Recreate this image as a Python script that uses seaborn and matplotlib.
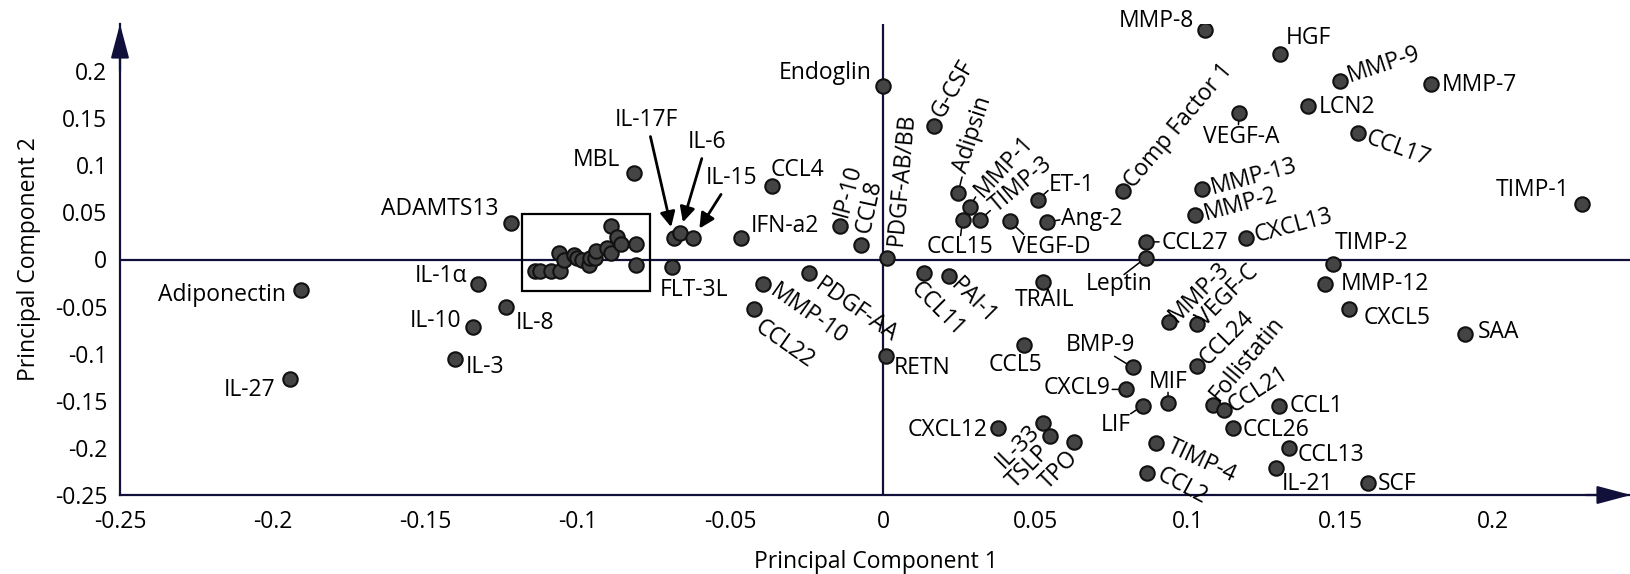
import matplotlib
matplotlib.use("Agg")
import matplotlib.pyplot as plt
import seaborn as sns
import pandas as pd
from matplotlib.patches import Rectangle

# ---------------- data ----------------
names = ["Adiponectin", "IL-27", "ADAMTS13", "MBL", "IL-1α", "IL-10", "IL-8", "IL-3",
         "IL-17F", "IL-6", "IL-15", "FLT-3L", "CCL4", "IFN-a2", "IP-10", "CCL8",
         "PDGF-AB/BB", "Endoglin", "G-CSF", "Adipsin", "MMP-1", "CCL15", "TIMP-3",
         "VEGF-D", "ET-1", "Ang-2", "Comp Factor 1", "MMP-8", "CCL27", "Leptin",
         "TRAIL", "RETN", "CCL11", "PAI-1", "PDGF-AA", "MMP-10", "CCL22", "CXCL12",
         "IL-33", "TSLP", "TPO", "CCL5", "BMP-9", "CXCL9", "LIF", "MIF", "MMP-3",
         "VEGF-C", "CCL24", "Follistatin", "CCL21", "CCL1", "CCL26", "CCL13", "IL-21",
         "SCF", "SAA", "CXCL5", "MMP-12", "TIMP-2", "TIMP-1", "CXCL13", "MMP-2",
         "MMP-13", "MMP-9", "HGF", "MMP-7", "LCN2", "VEGF-A", "CCL17", "TIMP-4", "CCL2"]
pc1 = [-0.1906, -0.1942, -0.1218, -0.0817, -0.1327, -0.1343, -0.1234, -0.1401,
       -0.0686, -0.0666, -0.0621, -0.0691, -0.0362, -0.0465, -0.0142, -0.0071,
       0.0013, 0.0000, 0.0166, 0.0246, 0.0284, 0.0261, 0.0319,
       0.0415, 0.0508, 0.0537, 0.0786, 0.1054, 0.0862, 0.0862,
       0.0524, 0.0011, 0.0135, 0.0217, -0.0244, -0.0393, -0.0422, 0.0377,
       0.0524, 0.0548, 0.0627, 0.0461, 0.0818, 0.0797, 0.0851, 0.0934, 0.0936,
       0.1029, 0.1029, 0.1083, 0.1116, 0.1299, 0.1147, 0.1329, 0.1288,
       0.1588, 0.1908, 0.1528, 0.1447, 0.1476, 0.2290, 0.1189, 0.1023,
       0.1045, 0.1498, 0.1300, 0.1797, 0.1394, 0.1168, 0.1555, 0.0895, 0.0865]
pc2 = [-0.0326, -0.1269, 0.0392, 0.0918, -0.0265, -0.0721, -0.0509, -0.1057,
       0.0229, 0.0282, 0.0229, -0.0078, 0.0781, 0.0233, 0.0353, 0.0159,
       0.0014, 0.1838, 0.1419, 0.0706, 0.0558, 0.0424, 0.0424,
       0.0406, 0.0636, 0.0399, 0.0727, 0.2432, 0.0187, 0.0021,
       -0.0238, -0.1025, -0.0148, -0.0174, -0.0142, -0.0265, -0.0530, -0.1792,
       -0.1739, -0.1874, -0.1934, -0.0909, -0.1145, -0.1379, -0.1552, -0.1527, -0.0662,
       -0.0689, -0.1131, -0.1545, -0.1598, -0.1552, -0.1786, -0.1998, -0.2210,
       -0.2375, -0.0792, -0.0530, -0.0262, -0.0053, 0.0586, 0.0233, 0.0477,
       0.0753, 0.1894, 0.2177, 0.1866, 0.1626, 0.1559, 0.1343, -0.1951, -0.2269]

# unlabeled cluster inside the boxed region
cluster_pc1 = [-0.1139, -0.1123, -0.1088, -0.1057, -0.1060, -0.1044, -0.1011, -0.1001,
               -0.0986, -0.0962, -0.0959, -0.0945, -0.0940, -0.0904, -0.0890, -0.0890,
               -0.0873, -0.0860, -0.0808, -0.0808]
cluster_pc2 = [-0.0121, -0.0121, -0.0121, -0.0121, 0.0074, -0.0003, 0.0046, 0.0021,
               -0.0002, -0.0055, 0.0021, 0.0021, 0.0093, 0.0117, 0.0067, 0.0353,
               0.0236, 0.0165, 0.0162, -0.0055]

# highlighted box (x0, x1) and (y0, y1)
box_x = [-0.1183, -0.0765]
box_y = [-0.0333, 0.0480]

xticks = [-0.25, -0.2, -0.15, -0.1, -0.05, 0, 0.05, 0.1, 0.15, 0.2]
xtick_labels = ["-0.25", "-0.2", "-0.15", "-0.1", "-0.05", "0", "0.05", "0.1", "0.15", "0.2"]
yticks = [-0.25, -0.2, -0.15, -0.1, -0.05, 0, 0.05, 0.1, 0.15, 0.2]
ytick_labels = ["-0.25", "-0.2", "-0.15", "-0.1", "-0.05", "0", "0.05", "0.1", "0.15", "0.2"]

x_title = "Principal Component 1"
y_title = "Principal Component 2"

# ---------------- label layout (pixel offsets, ha, rotation, leader end) ----------------
LAYOUT = {
    "Adiponectin": (-15, -5, "right", 0, None),
    "IL-27": (-15, -11, "right", 0, None),
    "ADAMTS13": (-13, 14, "right", 0, None),
    "MBL": (-14, 13, "right", 0, None),
    "IL-1α": (-11, 8, "right", 0, None),
    "IL-10": (-12, 6, "right", 0, None),
    "IL-8": (9, -16, "left", 0, None),
    "IL-3": (10, -8, "left", 0, None),
    "FLT-3L": (22, -23, "center", 0, None),
    "CCL4": (-2, 16, "left", 0, None),
    "IFN-a2": (10, 12, "left", 0, None),
    "Endoglin": (-11, 13, "right", 0, None),
    "CCL15": (-3, -27, "center", 0, (-2, -16)),
    "VEGF-D": (42, -26, "center", 0, (14, -13)),
    "ET-1": (11, 15, "left", 0, (10, 9)),
    "Ang-2": (14, 3, "left", 0, (13, 2)),
    "MMP-8": (-11, 9, "right", 0, None),
    "CCL27": (16, -1, "left", 0, (13, 0)),
    "Leptin": (-27, -26, "center", 0, (-22, -17)),
    "TRAIL": (2, -18, "center", 0, None),
    "RETN": (7, -12, "left", 0, None),
    "CXCL12": (-10, -2, "right", 0, None),
    "CCL5": (-8, -20, "center", 0, None),
    "BMP-9": (-32, 22, "center", 0, (-18, 11)),
    "CXCL9": (-16, 1, "right", 0, (-14, 0)),
    "LIF": (-27, -19, "center", 0, (-12, -8)),
    "MIF": (0, 21, "center", 0, (0, 11)),
    "CCL1": (10, 0, "left", 0, None),
    "CCL26": (10, -2, "left", 0, None),
    "CCL13": (9, -7, "left", 0, None),
    "IL-21": (31, -16, "center", 0, None),
    "SCF": (10, -1, "left", 0, None),
    "SAA": (13, 2, "left", 0, None),
    "CXCL5": (14, -9, "left", 0, None),
    "MMP-12": (16, 0, "left", 0, None),
    "TIMP-2": (38, 21, "center", 0, None),
    "TIMP-1": (-12, 14, "right", 0, None),
    "HGF": (6, 16, "left", 0, None),
    "MMP-7": (10, -1, "left", 0, None),
    "LCN2": (10, -1, "left", 0, None),
    "VEGF-A": (2, -24, "center", 0, (-1, -12)),
    "IP-10": (1, 10, "left", 75, None),
    "CCL8": (2, 12, "left", 78, None),
    "PDGF-AB/BB": (9, 13, "left", 85, None),
    "G-CSF": (4, 10, "left", 60, None),
    "Adipsin": (3, 21, "left", 72, (4, 16)),
    "MMP-1": (9, 13, "left", 47, (6, 10)),
    "TIMP-3": (13, 11, "left", 40, (10, 9)),
    "Comp Factor 1": (6, 6, "left", 50, None),
    "CCL11": (-10, -12, "left", -45, None),
    "PAI-1": (5, -6, "left", -45, None),
    "PDGF-AA": (9, -10, "left", -35, None),
    "MMP-10": (9, -5, "left", -35, None),
    "CCL22": (3, -16, "left", -35, None),
    "IL-33": (-7, -5, "right", 45, None),
    "TSLP": (-4, -13, "right", 45, None),
    "TPO": (0, -13, "right", 45, None),
    "MMP-3": (4, 3, "left", 45, None),
    "VEGF-C": (4, 2, "left", 45, None),
    "CCL24": (6, 4, "left", 45, None),
    "Follistatin": (1, 7, "left", 50, None),
    "CCL21": (7, 2, "left", 33, None),
    "CXCL13": (9, 1, "left", 15, None),
    "MMP-2": (9, 0, "left", 15, None),
    "MMP-13": (9, 0, "left", 15, None),
    "MMP-9": (8, 5, "left", 18, None),
    "CCL17": (9, -4, "left", -20, None),
    "TIMP-4": (12, -2, "left", -25, None),
    "CCL2": (11, 0, "left", -28, None),
}
ARROW_LABELS = {"IL-17F": (-27, 118), "IL-6": (27, 91), "IL-15": (38, 60)}

# ---------------- style ----------------
sns.set_theme(style="white")
plt.rcParams["font.family"] = ["Open Sans", "DejaVu Sans"]
plt.rcParams["text.color"] = "black"
plt.rcParams["axes.labelcolor"] = "black"
plt.rcParams["xtick.color"] = "black"
plt.rcParams["ytick.color"] = "black"
FS = 16.5
AXC = "#10103a"

W, H = 1631, 574
fig = plt.figure(figsize=(W / 100, H / 100), dpi=100)
ax = fig.add_axes([120 / W, 79 / H, 1511 / W, 471 / H])

df = pd.DataFrame({"pc1": pc1 + cluster_pc1, "pc2": pc2 + cluster_pc2})
sns.scatterplot(data=df, x="pc1", y="pc2", ax=ax, s=108, color="#444444",
                edgecolor="#111111", linewidth=1.5, zorder=4, legend=False)

ax.set_xlim(-0.25, 0.2451)
ax.set_ylim(-0.25, 0.25)

ax.axhline(0, color=AXC, lw=1.6, zorder=1)
ax.axvline(0, color=AXC, lw=1.6, zorder=1)

ax.add_patch(Rectangle((box_x[0], box_y[0]), box_x[1] - box_x[0], box_y[1] - box_y[0],
                       fill=False, edgecolor="black", lw=1.6, zorder=2))

for s in ["top", "right"]:
    ax.spines[s].set_visible(False)
for s in ["left", "bottom"]:
    ax.spines[s].set_color(AXC)
    ax.spines[s].set_linewidth(1.6)

# axis arrow heads
arrow_style = "-|>,head_length=21,head_width=5.6"
ax.annotate("", xy=(1, 0), xycoords="axes fraction", xytext=(0.97, 0),
            arrowprops=dict(arrowstyle=arrow_style, color=AXC, lw=1.6,
                            shrinkA=0, shrinkB=0, mutation_scale=1), annotation_clip=False)
ax.annotate("", xy=(0, 1), xycoords="axes fraction", xytext=(0, 0.9),
            arrowprops=dict(arrowstyle=arrow_style, color=AXC, lw=1.6,
                            shrinkA=0, shrinkB=0, mutation_scale=1), annotation_clip=False)

ax.set_xticks(xticks)
ax.set_xticklabels(xtick_labels)
ax.set_yticks(yticks)
ax.set_yticklabels(ytick_labels)
ax.tick_params(axis="both", length=0, labelsize=FS, colors="black")
ax.tick_params(axis="x", pad=11)
ax.tick_params(axis="y", pad=9)
ax.set_xlabel(x_title, fontsize=FS, labelpad=11, color="black")
ax.set_ylabel(y_title, fontsize=FS, labelpad=10, color="black")
ax.grid(False)

# point labels
for n, x, y in zip(names, pc1, pc2):
    if n in ARROW_LABELS:
        dx, dy = ARROW_LABELS[n]
        ax.annotate(n, xy=(x, y), xytext=(dx, dy), textcoords="offset pixels",
                    ha="center", va="center", fontsize=FS, zorder=5, color="black",
                    arrowprops=dict(arrowstyle="-|>,head_length=9,head_width=4.5",
                                    color="black", lw=2, shrinkA=1, shrinkB=8,
                                    mutation_scale=1))
        continue
    dx, dy, ha, rot, leader = LAYOUT[n]
    if leader is not None:
        ax.annotate("", xy=(x, y), xytext=leader, textcoords="offset pixels",
                    arrowprops=dict(arrowstyle="-", color="black", lw=1.1,
                                    shrinkA=0, shrinkB=5), zorder=3)
    ax.annotate(n, xy=(x, y), xytext=(dx, dy), textcoords="offset pixels",
                ha=ha, va="center", rotation=rot, rotation_mode="anchor",
                fontsize=FS, zorder=5, color="black")

fig.savefig("out.png", dpi=100)
